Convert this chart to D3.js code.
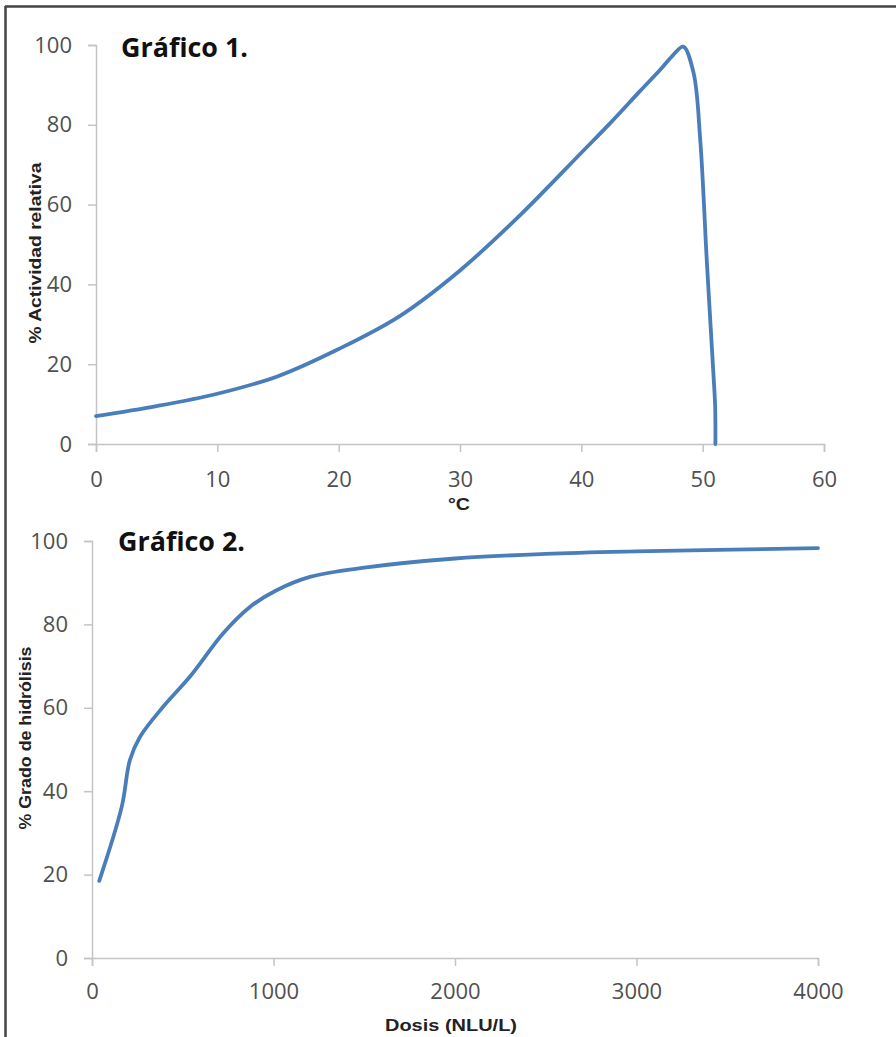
<!DOCTYPE html>
<html>
<head>
<meta charset="utf-8">
<script src="https://cdn.jsdelivr.net/npm/d3@7"></script>
<style>
  body { margin: 0; background: #fff; }
  svg { display: block; }
</style>
</head>
<body>
<div id="chart-container"></div>
<script>
// Gráfico 1: temperatura vs actividad relativa
const tempC = [0, 5, 10, 15, 20, 25, 30, 35, 40, 42.5, 44.85, 46.5, 47.6, 48.4, 49.25, 49.8, 50.35, 50.9, 51.03, 51.05];
const actividad = [7, 9.5, 12.6, 17, 23.8, 32, 43.5, 57.5, 73, 80.8, 88.5, 93.8, 97.6, 99.6, 93, 76.2, 45.4, 16.9, 9.3, 0];
const xTicks1 = [0, 10, 20, 30, 40, 50, 60];
const yTicks1 = [0, 20, 40, 60, 80, 100];

// Gráfico 2: dosis vs grado de hidrólisis
const dosis = [40, 164, 209, 264, 393, 540, 723, 870, 1017, 1201, 1500, 2000, 2500, 3000, 4000];
const hidrolisis = [18.5, 36.3, 47.5, 53, 60.3, 67.5, 77.9, 84.2, 88.2, 91.4, 93.6, 95.8, 96.9, 97.5, 98.3];
const xTicks2 = [0, 1000, 2000, 3000, 4000];
const yTicks2 = [0, 20, 40, 60, 80, 100];

const W = 896, H = 1037;
const lineColor = "#4a7ebb";
const axisColor = "#c4c4c4";
const tickFont = "'Open Sans', sans-serif";
const labelFont = "'Liberation Sans', Arial, sans-serif";

const svg = d3.select("#chart-container")
  .append("svg")
  .attr("width", W)
  .attr("height", H);

svg.append("rect").attr("width", W).attr("height", H).attr("fill", "#fff");

// frame (top and left edges visible)
svg.append("line")
  .attr("x1", 5).attr("x2", W).attr("y1", 6.5).attr("y2", 6.5)
  .attr("stroke", "#444").attr("stroke-width", 2.5);
svg.append("line")
  .attr("x1", 5.5).attr("x2", 5.5).attr("y1", 6).attr("y2", H)
  .attr("stroke", "#444").attr("stroke-width", 2.5);

function drawChart(opt) {
  const x = d3.scaleLinear().domain(opt.xDomain).range([opt.left, opt.right]);
  const y = d3.scaleLinear().domain([0, 100]).range([opt.bottom, opt.top]);

  const g = svg.append("g");

  // y axis
  const yAxis = g.append("g")
    .attr("transform", `translate(${opt.left},0)`)
    .call(d3.axisLeft(y).tickValues(opt.yTicks).tickSize(8).tickPadding(16));
  // x axis
  const xAxis = g.append("g")
    .attr("transform", `translate(0,${opt.bottom})`)
    .call(d3.axisBottom(x).tickValues(opt.xTicks).tickFormat(d3.format("d"))
      .tickSize(8).tickPadding(opt.xPad));

  [xAxis, yAxis].forEach(a => {
    a.select(".domain").attr("stroke", axisColor).attr("stroke-width", 1.5);
    a.selectAll(".tick line").attr("stroke", axisColor).attr("stroke-width", 1.5);
    a.selectAll(".tick text")
      .attr("fill", "#505050")
      .style("font-family", tickFont)
      .style("font-size", "22px");
  });

  // line
  const line = d3.line()
    .x((d, i) => x(opt.xs[i]))
    .y(d => y(d))
    .curve(d3.curveCatmullRom.alpha(0.5));

  g.append("path")
    .datum(opt.ys)
    .attr("fill", "none")
    .attr("stroke", lineColor)
    .attr("stroke-width", 3.8)
    .attr("stroke-linecap", "round")
    .attr("stroke-linejoin", "round")
    .attr("d", line);

  // title
  g.append("text")
    .attr("x", opt.titleX)
    .attr("y", opt.titleY)
    .attr("textLength", 127)
    .attr("lengthAdjust", "spacingAndGlyphs")
    .style("font-family", "'Open Sans', sans-serif")
    .style("font-weight", "bold")
    .style("font-size", "27px")
    .attr("fill", "#111")
    .text(opt.title);

  // x label
  g.append("text")
    .attr("x", opt.xLabelX)
    .attr("y", opt.xLabelY)
    .attr("text-anchor", "middle")
    .attr("textLength", opt.xLabelLen)
    .attr("lengthAdjust", "spacingAndGlyphs")
    .style("font-family", labelFont)
    .style("font-weight", "bold")
    .style("font-size", "17px")
    .attr("fill", "#222")
    .text(opt.xLabel);

  // y label
  g.append("text")
    .attr("transform", `translate(${opt.yLabelX},${opt.yLabelY}) rotate(-90)`)
    .attr("text-anchor", "middle")
    .attr("textLength", opt.yLabelLen)
    .attr("lengthAdjust", "spacingAndGlyphs")
    .style("font-family", labelFont)
    .style("font-weight", "bold")
    .style("font-size", "17px")
    .attr("fill", "#222")
    .text(opt.yLabel);
}

drawChart({
  xs: tempC, ys: actividad,
  xDomain: [0, 60], xTicks: xTicks1, yTicks: yTicks1, xPad: 19,
  left: 96, right: 824, top: 45, bottom: 444,
  title: "Gráfico 1.", titleX: 121, titleY: 57,
  xLabel: "°C", xLabelX: 459, xLabelY: 510, xLabelLen: 22,
  yLabel: "%  Actividad relativa", yLabelX: 41, yLabelY: 253, yLabelLen: 181
});

drawChart({
  xs: dosis, ys: hidrolisis,
  xDomain: [0, 4000], xTicks: xTicks2, yTicks: yTicks2, xPad: 17,
  left: 92, right: 818, top: 541, bottom: 958,
  title: "Gráfico 2.", titleX: 118, titleY: 551,
  xLabel: "Dosis (NLU/L)", xLabelX: 451, xLabelY: 1031, xLabelLen: 132,
  yLabel: "% Grado de hidrólisis", yLabelX: 31, yLabelY: 738, yLabelLen: 183
});
</script>
</body>
</html>
